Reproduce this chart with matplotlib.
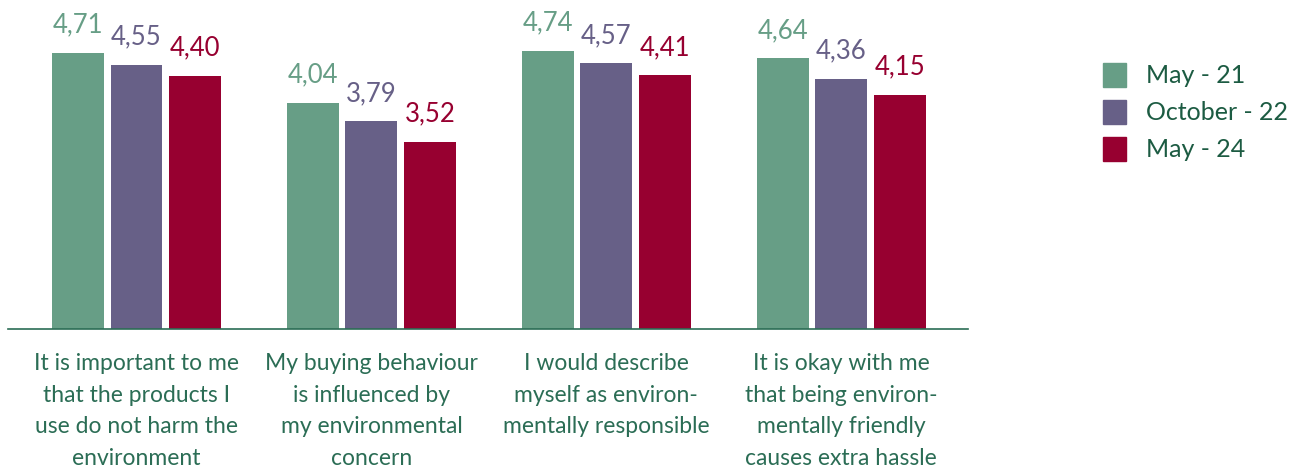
import matplotlib
matplotlib.use("Agg")
import matplotlib.pyplot as plt
import numpy as np
from matplotlib.patches import Patch

categories = [
    "It is important to me\nthat the products I\nuse do not harm the\nenvironment",
    "My buying behaviour\nis influenced by\nmy environmental\nconcern",
    "I would describe\nmyself as environ-\nmentally responsible",
    "It is okay with me\nthat being environ-\nmentally friendly\ncauses extra hassle",
]
series = ["May - 21", "October - 22", "May - 24"]
may_21 = [4.71, 4.04, 4.74, 4.64]
october_22 = [4.55, 3.79, 4.57, 4.36]
may_24 = [4.40, 3.52, 4.41, 4.15]

GREEN = "#679E86"
PURPLE = "#676087"
RED = "#970030"
INK = "#2B6D55"
LEGEND_INK = "#1C5B42"

plt.rcParams["font.family"] = ["Lato", "DejaVu Sans"]

W, H = 1295, 471
fig = plt.figure(figsize=(W / 100, H / 100), dpi=100)
base_px = 329
px_per_unit = 74.4
ax = fig.add_axes([8 / W, (H - base_px) / H, 960 / W, base_px / H])

x = np.arange(len(categories))
width = 0.221
step = 0.249
colours = [GREEN, PURPLE, RED]
values = [may_21, october_22, may_24]

for i, (vals, col) in enumerate(zip(values, colours)):
    pos = x + (i - 1) * step
    bars = ax.bar(pos, vals, width, color=col)
    for b, v in zip(bars, vals):
        ax.annotate(f"{v:.2f}".replace(".", ","),
                    (b.get_x() + b.get_width() / 2, v),
                    xytext=(0, 11), textcoords="offset points",
                    ha="center", va="bottom", color=col, fontsize=18.5)

ax.set_xlim(-0.547, 3.54)
ax.set_ylim(1, 1 + base_px / px_per_unit)
ax.set_yticks([])
ax.set_xticks([])
for side in ["top", "right", "left"]:
    ax.spines[side].set_visible(False)
ax.spines["bottom"].set_color(INK)
ax.spines["bottom"].set_linewidth(1.2)

# category labels sit below the axis line
for xi, label in zip(x, categories):
    ax.text(xi, 1 - 24 / px_per_unit, label, ha="center", va="top",
            fontsize=16.5, color=INK, linespacing=1.62)

handles = [Patch(color=c, label=s) for c, s in zip(colours, series)]
leg = fig.legend(handles=handles, loc="upper left",
                 bbox_to_anchor=(1080 / W, 1 - 40 / H), frameon=False,
                 fontsize=18, handlelength=0.95, handleheight=1.1,
                 handletextpad=0.8, labelspacing=0.5)
for t in leg.get_texts():
    t.set_color(LEGEND_INK)

fig.savefig("out.png", dpi=100)
